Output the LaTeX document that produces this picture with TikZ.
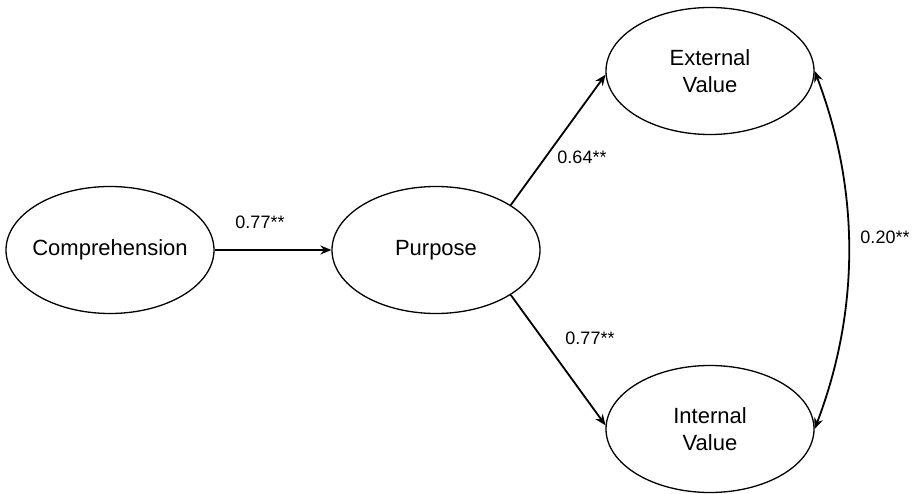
\documentclass[tikz,border=0pt]{standalone}
\usepackage{fontspec}
\setmainfont{Liberation Sans}
\usetikzlibrary{arrows.meta,shapes.geometric}
\begin{document}
\begin{tikzpicture}[x=1pt,y=-1pt,
  latent/.style={draw, line width=1.3pt, ellipse, minimum width=208pt, minimum height=127pt, inner sep=-20pt, font=\fontsize{22}{27}\selectfont, align=center},
  pathline/.style={line width=1.8pt, -{Stealth[length=11pt,width=9pt]}},
  covline/.style={line width=1.8pt, {Stealth[length=11pt,width=9pt]}-{Stealth[length=11pt,width=9pt]}},
  coef/.style={font=\fontsize{18}{22}\selectfont, inner sep=0pt}]
\useasboundingbox (0,0) rectangle (918,494);
\node[latent] (comp) at (110,250) {Comprehension};
\node[latent] (purp) at (436,250) {Purpose};
\node[latent] (ext) at (710,71) {External\\Value};
\node[latent] (int) at (710,429) {Internal\\Value};
\draw[pathline] (comp) -- (purp);
\draw[pathline] (purp.31) -- (ext.182);
\draw[pathline] (purp.-31) -- (int.178);
\draw[covline] (ext.east) .. controls (860,190) and (860,310) .. (int.east);
\node[coef] (l1) at (260,222) {0.77**};
\node[coef] (l2) at (582,157) {0.64**};
\node[coef] (l3) at (590,338) {0.77**};
\node[coef] (l4) at (885,237) {0.20**};
\end{tikzpicture}
\end{document}
